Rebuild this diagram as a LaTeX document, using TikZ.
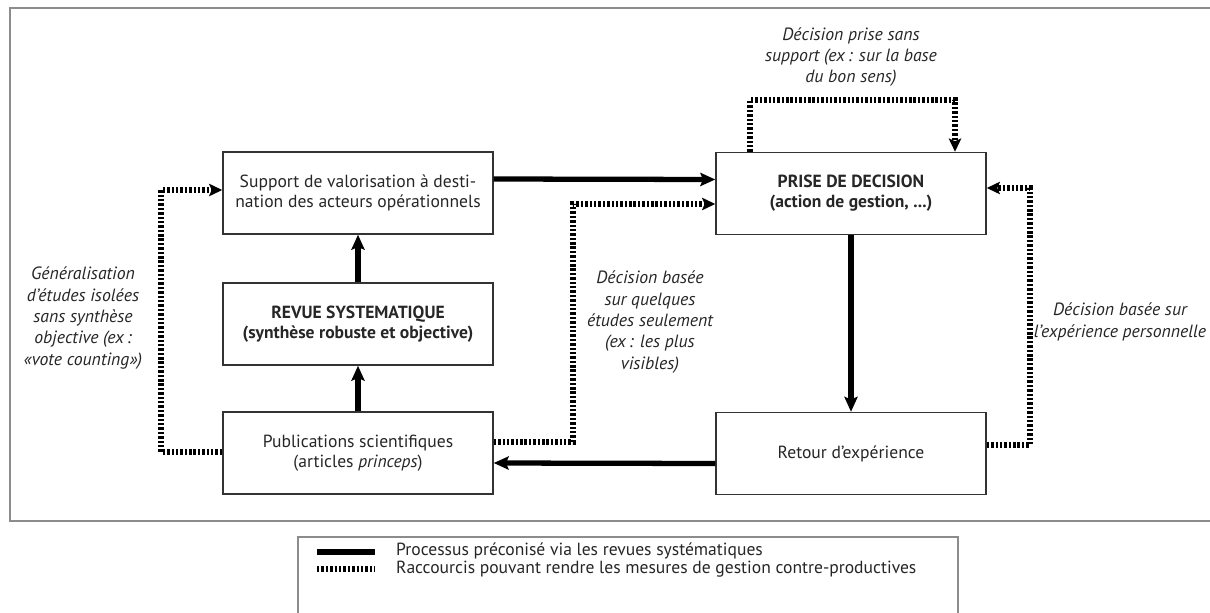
\documentclass[tikz,border=0pt]{standalone}
\usepackage{fontspec}
\setmainfont{PT Sans}
\usetikzlibrary{arrows.meta,calc}
\newcommand\diagfont{\fontsize{10}{11.4}\selectfont}
\newcommand\notefont{\fontsize{10.1}{12.2}\selectfont\itshape}
\tikzset{
	box/.style={
			draw=black!80, line width=0.85pt, text=black!85,
			minimum width=5.4cm, minimum height=1.64cm,
			align=center, font=\diagfont
		},
	boldbox/.style={box, font=\diagfont\bfseries},
	flow/.style={line width=3pt, -{Stealth[length=8.5pt,width=7.5pt,inset=1.5pt]}},
	shortcut/.style={line width=2.9pt, dash pattern=on 1.4pt off 1.1pt,
			-{Stealth[length=7.5pt,width=7pt,inset=1.5pt]}},
	remark/.style={align=center, font=\notefont, text=black!85},
	frame/.style={draw=black!45, line width=0.6pt}
}

\begin{document}
\begin{tikzpicture}[x=0.02cm, y=-0.02cm]
	\useasboundingbox (0,0) rectangle (1210,612);
	\clip (0,0) rectangle (1210,612);
	\draw[frame]	(1215,8) -- (10,8) -- (10,521) -- (1215,521);

	\node[box]	(sup) at (358,193)	{Support de valorisation à desti-\\nation des acteurs opérationnels};
	\node[boldbox]	(rev) at (358,324)	{REVUE SYSTEMATIQUE\\(synthèse robuste et objective)};
	\node[box]	(pub) at (358,453)	{Publications scientifiques\\(articles \textit{princeps})};
	\node[boldbox]	(pri) at (851,193.5)	{PRISE DE DECISION\\(action de gestion, ...)};
	\node[box]	(ret) at (851,453.5)	{Retour d’expérience};

	\draw[flow]	($(sup.east)+(0,-14)$) -- ($(pri.west)+(0,-14)$);
	\draw[flow]	(rev.north) -- (sup.south);
	\draw[flow]	(pub.north) -- (rev.south);
	\draw[flow]	(pri.south) -- (ret.north);
	\draw[flow]	($(ret.west)+(0,10)$) -- ($(pub.east)+(0,10)$);

	\coordinate (gen) at (161,190);
	\coordinate (few) at (573,204);
	\coordinate (sensL) at (750,100);
	\coordinate (sensR) at (955,100);
	\coordinate (perso) at (1030,188);

	\draw[shortcut]	($(pub.west)+(0,-1)$) -| (gen) -- (gen -| sup.west);
	\draw[shortcut]	($(pub.east)+(0,-11)$) -| (few) -- (few -| pri.west);
	\draw[shortcut]	(sensL |- pri.north) -- (sensL) -- (sensR) -- (sensR |- pri.north);
	\draw[shortcut]	($(ret.east)+(0,-8.5)$) -| (perso) -- (perso -| pri.east);

	\node[remark]	(lbgen) at (83,318)	{Généralisation\\d’études isolées\\sans synthèse\\objective (ex\,:\\«vote counting»)};
	\node[remark]	(lbfew) at (650,322)	{Décision basée\\sur quelques\\études seulement\\(ex\,: les plus\\visibles)};
	\node[remark]	(lbsens) at (851,57)	{Décision prise sans\\support (ex\,: sur la base\\du bon sens)};
	\node[remark]	(lbperso) at (1120,322)	{Décision basée sur\\l’expérience personnelle};

	% legende
	\draw[frame]	(298,640) |- (958,537) -- (958,640);
	\draw[line width=3pt]	(317,552) -- (375,552);
	\draw[line width=2.9pt, dash pattern=on 1.4pt off 1.1pt]	(317,569) -- (375,569);
	\node[anchor=west, font=\diagfont, text=black!85]	(lgflow) at (390,551)	{Processus préconisé via les revues systématiques};
	\node[anchor=west, font=\diagfont, text=black!85]	(lgshort) at (390,569)	{Raccourcis pouvant rendre les mesures de gestion contre-productives};
\end{tikzpicture}
\end{document}
